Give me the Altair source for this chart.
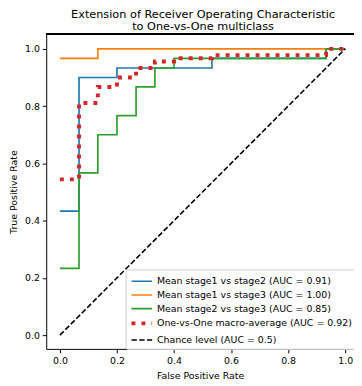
import altair as alt
import pandas as pd

series_names = [
    "Mean stage1 vs stage2 (AUC = 0.91)",
    "Mean stage1 vs stage3 (AUC = 1.00)",
    "Mean stage2 vs stage3 (AUC = 0.85)",
    "One-vs-One macro-average (AUC = 0.92)",
    "Chance level (AUC = 0.5)",
]
series_colors = ["#1f77b4", "#ff7f0e", "#2ca02c", "#d62728", "#000000"]
series_dash = [[1, 0], [1, 0], [1, 0], [4, 6.2], [5.5, 2.4]]
series_width = [1.7, 1.7, 1.7, 4, 1.6]

blue_fpr = [0, 0.067, 0.067, 0.2, 0.2, 0.533, 0.533, 0.933, 0.933, 1.0]
blue_tpr = [0.433, 0.433, 0.9, 0.9, 0.933, 0.933, 0.967, 0.967, 1.0, 1.0]

orange_fpr = [0, 0.133, 0.133, 1.0]
orange_tpr = [0.967, 0.967, 1.0, 1.0]

green_fpr = [0, 0.067, 0.067, 0.133, 0.133, 0.2, 0.2, 0.267, 0.267, 0.333, 0.333, 0.4, 0.4, 0.933, 0.933, 1.0]
green_tpr = [0.233, 0.233, 0.567, 0.567, 0.7, 0.7, 0.767, 0.767, 0.867, 0.867, 0.933, 0.933, 0.967, 0.967, 1.0, 1.0]

macro_fpr = [0, 0.067, 0.067, 0.133, 0.133, 0.2, 0.2, 0.267, 0.267, 0.333, 0.333, 0.4, 0.4, 0.533, 0.533, 0.933, 0.933, 1.0]
macro_tpr = [0.544, 0.544, 0.811, 0.811, 0.867, 0.867, 0.9, 0.9, 0.933, 0.933, 0.956, 0.956, 0.967, 0.967, 0.978, 0.978, 1.0, 1.0]

chance_fpr = [0, 1]
chance_tpr = [0, 1]

x_ticks = [0.0, 0.2, 0.4, 0.6, 0.8, 1.0]
y_ticks = [0.0, 0.2, 0.4, 0.6, 0.8, 1.0]

curves = [
    (blue_fpr, blue_tpr),
    (orange_fpr, orange_tpr),
    (green_fpr, green_tpr),
    (macro_fpr, macro_tpr),
    (chance_fpr, chance_tpr),
]
rows = []
for name, (xs, ys) in zip(series_names, curves):
    for i, (xv, yv) in enumerate(zip(xs, ys)):
        rows.append({"series": name, "fpr": xv, "tpr": yv, "idx": i})
df = pd.DataFrame(rows)

FONT = "DejaVu Sans"
FS = 9.6
W, H = 314, 321

x_enc = alt.X(
    "fpr:Q",
    scale=alt.Scale(domain=[-0.048, 1.031], nice=False, zero=False),
    axis=alt.Axis(values=x_ticks, format=".1f", title="False Positive Rate", grid=False),
)
y_enc = alt.Y(
    "tpr:Q",
    scale=alt.Scale(domain=[-0.048, 1.051], nice=False, zero=False),
    axis=alt.Axis(values=y_ticks, format=".1f", title="True Positive Rate", grid=False),
)
color_enc = alt.Color(
    "series:N",
    scale=alt.Scale(domain=series_names, range=series_colors),
    legend=alt.Legend(
        title=None,
        orient="none",
        legendX=81,
        legendY=240,
        symbolType="M-1,0L2,0",
        symbolSize=196,
        labelFontSize=FS,
        labelFont=FONT,
        labelColor="#000000",
        labelLimit=400,
        labelOffset=10,
        rowPadding=1,
        padding=4,
        fillColor="rgba(255,255,255,0.8)",
        strokeColor="#cccccc",
        cornerRadius=2,
    ),
)
dash_enc = alt.StrokeDash(
    "series:N",
    scale=alt.Scale(domain=series_names, range=series_dash),
    legend=alt.Legend(title=None),
)
width_enc = alt.StrokeWidth(
    "series:N",
    scale=alt.Scale(type="ordinal", domain=series_names, range=series_width),
    legend=alt.Legend(title=None),
)

layers = []
for name in series_names:
    layers.append(
        alt.Chart(df)
        .transform_filter(alt.datum.series == name)
        .mark_line(strokeCap="butt", clip=True)
        .encode(
            x=x_enc,
            y=y_enc,
            color=color_enc,
            strokeDash=dash_enc,
            strokeWidth=width_enc,
            order="idx:Q",
        )
    )

top_spine = alt.Chart(df).mark_rule(color="#000000", strokeWidth=1).encode(y=alt.value(0))

chart = (
    alt.layer(top_spine, *layers)
    .properties(
        width=W,
        height=H,
        title=alt.TitleParams(
            text=["Extension of Receiver Operating Characteristic", "to One-vs-One multiclass"],
            font=FONT,
            fontSize=11.5,
            fontWeight="normal",
            color="#000000",
            anchor="middle",
            lineHeight=12.5,
            offset=1.5,
            dx=3,
        ),
        autosize=alt.AutoSizeParams(type="none"),
        padding={"left": 39, "top": 23, "right": 0, "bottom": 30},
    )
    .configure_view(stroke=None)
    .configure_axis(
        domainColor="#000000",
        domainWidth=1,
        tickColor="#000000",
        tickSize=4,
        labelPadding=3,
        labelFont=FONT,
        labelFontSize=FS,
        labelColor="#000000",
        titleFont=FONT,
        titleFontSize=FS,
        titleFontWeight="normal",
        titleColor="#000000",
    )
    .configure_axisY(titlePadding=6)
    .configure_axisX(titlePadding=6)
)

chart.save("out.html", embed_options={"renderer": "svg", "actions": False})
